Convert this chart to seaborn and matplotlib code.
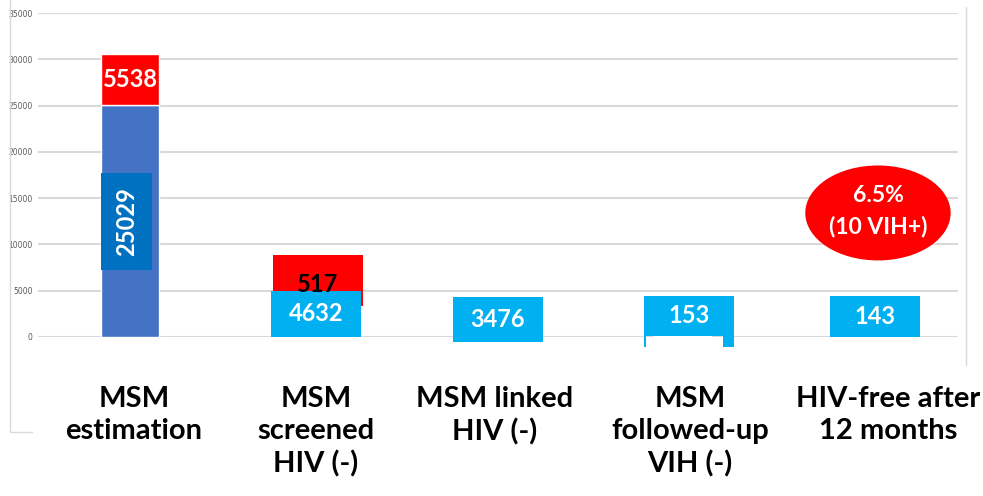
# MSM HIV prevention cascade, recreated as a bar chart with label boxes

import matplotlib
matplotlib.use("Agg")
import matplotlib.pyplot as plt
from matplotlib.patches import Rectangle, Ellipse
from matplotlib.lines import Line2D
from matplotlib.transforms import ScaledTranslation
import seaborn as sns

# Data
categories = ["MSM\nestimation", "MSM\nscreened\nHIV (-)", "MSM linked\nHIV (-)",
              "MSM\nfollowed-up\nVIH (-)", "HIV-free after\n12 months"]
base_values = [25029, 4632, 3476, 153, 143]
extra_values = [5538, 517, 0, 0, 0]
ellipse_lines = ["6.5%", "(10 VIH+)"]
yticks = [0, 5000, 10000, 15000, 20000, 25000, 30000, 35000]

BLUE = "#4472C4"
DARK_BLUE = "#0070C0"
LIGHT_BLUE = "#00B0F0"
RED = "#FF0000"

sns.set_style("white")
plt.rcParams["font.family"] = ["Lato", "DejaVu Sans"]

fig = plt.figure(figsize=(9.83, 4.96), dpi=100)
ax = fig.add_axes([38 / 983, 1 - 337 / 496, 920 / 983, 324 / 496])

bar_colors = [BLUE] + [LIGHT_BLUE] * 4
sns.barplot(x=list(range(len(categories))), y=base_values, hue=list(range(len(categories))),
            palette=bar_colors, legend=False, width=0.31, saturation=1, ax=ax)
ax.bar(range(len(categories)), extra_values, bottom=base_values, width=0.31, color=RED)

ax.set_xlim(-0.5, 4.5)
ax.set_ylim(0, 35000)
ax.set_yticks(yticks)
ax.set_yticklabels([str(t) for t in yticks], fontsize=5.5, color="#595959",
                   family=["Liberation Sans Narrow", "DejaVu Sans"])
ax.tick_params(axis="y", length=0, pad=4)
ax.yaxis.grid(True, color="#d9d9d9", linewidth=1.5)
ax.set_axisbelow(True)
for s in ax.spines.values():
    s.set_visible(False)

ax.set_xticks(range(len(categories)))
ax.set_xticklabels(categories, fontsize=21, fontweight="bold", color="black", linespacing=1.3,
                   va="top")
ax.tick_params(axis="x", length=0, pad=35)
# nudge the category labels like on the slide (pixels)
label_shift = [4, 2, -3, 8, 22]
for lab, dx in zip(ax.get_xticklabels(), label_shift):
    lab.set_transform(lab.get_transform() + ScaledTranslation(dx / 100, 0, fig.dpi_scale_trans))

NUM_SIZE = 17

# Label boxes: (category index, x offset, width, y bottom, y top, face, text colour, text)
boxes = [
    (0, -0.02, 0.28, 7240, 17720, DARK_BLUE, "white", str(base_values[0])),
    (1, 0.02, 0.49, 3350, 8860, RED, "black", str(extra_values[1])),
    (1, 0.01, 0.49, 0, 4970, LIGHT_BLUE, "white", str(base_values[1])),
    (2, 0.0, 0.49, -540, 4320, LIGHT_BLUE, "white", str(base_values[2])),
    (3, 0.04, 0.49, 110, 4430, LIGHT_BLUE, "white", str(base_values[3])),
    (4, 0.05, 0.49, 0, 4430, LIGHT_BLUE, "white", str(base_values[4])),
]
for i, dx, w, y0, y1, face, tc, label in boxes:
    cx = i + dx
    ax.add_patch(Rectangle((cx - w / 2, y0), w, y1 - y0, facecolor=face,
                           edgecolor="none", clip_on=False, zorder=3))
    if i == 0:
        ax.text(cx, (y0 + y1) / 2, label, rotation=90, ha="center", va="center",
                fontsize=NUM_SIZE, fontweight="bold", color=tc, zorder=4)
    elif face == RED:
        ax.text(cx, y0 + 0.58 * (y1 - y0) - 900, label, ha="center", va="center",
                fontsize=NUM_SIZE, fontweight="bold", color=tc, zorder=4)
    else:
        ax.text(cx, (y0 + y1) / 2, label, ha="center", va="center",
                fontsize=NUM_SIZE, fontweight="bold", color=tc, zorder=4)

# label for 5538 inside the stacked red segment
ax.text(0, base_values[0] + extra_values[0] / 2, str(extra_values[0]), ha="center", va="center",
        fontsize=NUM_SIZE, fontweight="bold", color="white", zorder=4)

# odd blue fragments under the 153 box
ax.add_patch(Rectangle((3.04 - 0.245, -1080), 0.012, 1200, facecolor=LIGHT_BLUE,
                       edgecolor="none", clip_on=False, zorder=3))
ax.add_patch(Rectangle((3.04 + 0.245 - 0.06, -1080), 0.06, 1200, facecolor=LIGHT_BLUE,
                       edgecolor="none", clip_on=False, zorder=3))

# red ellipse with the seroconversion rate
ax.add_patch(Ellipse((4.065, 13400), 0.79, 10260, facecolor=RED, edgecolor="none",
                     clip_on=False, zorder=3))
ax.text(4.065, 13600, "\n".join(ellipse_lines), ha="center", va="center", fontsize=16.5,
        fontweight="bold", color="white", linespacing=1.55, zorder=4)

# frame fragments of the pasted slide
fig.add_artist(Line2D([10 / 983, 10 / 983], [1, 1 - 432 / 496], color="#d9d9d9", lw=1))
fig.add_artist(Line2D([10 / 983, 32 / 983], [1 - 432 / 496, 1 - 432 / 496], color="#d9d9d9", lw=1))
fig.add_artist(Line2D([966 / 983, 966 / 983], [1 - 7 / 496, 1 - 365 / 496], color="#d9d9d9", lw=1))

fig.savefig("out.png", dpi=100)
